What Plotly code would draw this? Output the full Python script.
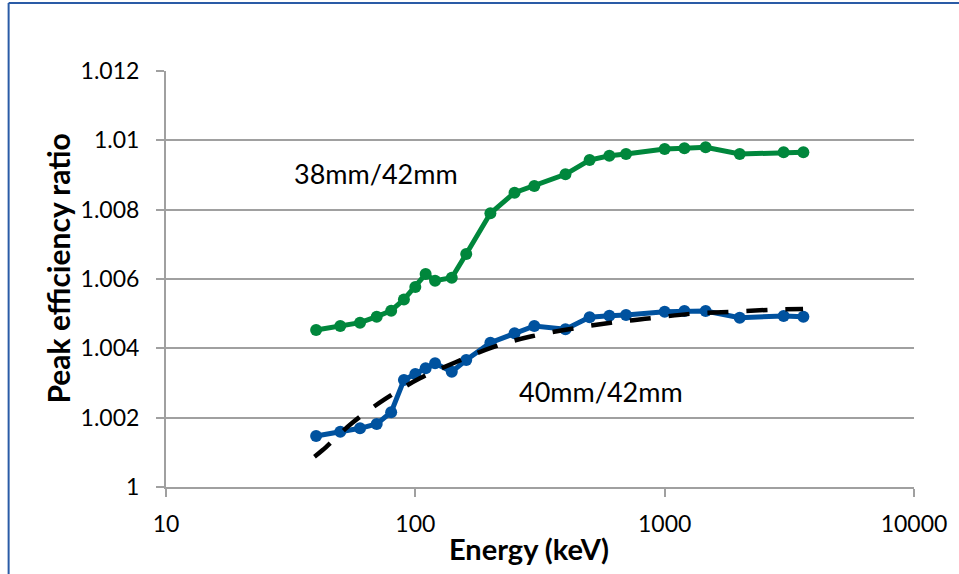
import plotly.graph_objects as go

# Energies (keV)
energy = [40, 50, 60, 70, 80, 90, 100, 110, 120, 140, 160, 200, 250, 300, 400,
          500, 600, 700, 1000, 1200, 1460, 2000, 3000, 3600]

ratio_38_42 = [1.004529, 1.004644, 1.004740, 1.004913, 1.005086, 1.005409, 1.005769,
               1.006144, 1.005951, 1.006038, 1.006721, 1.007895, 1.008490, 1.008683,
               1.009020, 1.009433, 1.009557, 1.009606, 1.009750, 1.009770, 1.009799,
               1.009606, 1.009655, 1.009655]

ratio_40_42 = [1.001471, 1.001595, 1.001693, 1.001817, 1.002155, 1.003087, 1.003260,
               1.003424, 1.003568, 1.003326, 1.003663, 1.004163, 1.004434, 1.004644,
               1.004549, 1.004895, 1.004942, 1.004962, 1.005057, 1.005077, 1.005077,
               1.004884, 1.004933, 1.004913]

# Trend (dashed)
fit_energy = [39.4, 42.5, 55.6, 75.5, 104.3, 145, 203.6, 293, 608, 878, 1267, 1832, 2667, 3590]
fit_ratio = [1.000874, 1.001067, 1.001838, 1.002533, 1.003136, 1.003597, 1.004030,
             1.004347, 1.004740, 1.004866, 1.004996, 1.005054, 1.005112, 1.005135]

y_ticks = [1.0, 1.002, 1.004, 1.006, 1.008, 1.01, 1.012]
y_tick_text = ["1", "1.002", "1.004", "1.006", "1.008", "1.01", "1.012"]
x_ticks = [10, 100, 1000, 10000]
x_tick_text = ["10", "100", "1000", "10000"]

GREEN = "#00873c"
BLUE = "#00529f"
FONT = "Lato"
GRID = "#a0a0a0"

fig = go.Figure()
fig.add_trace(go.Scatter(x=energy, y=ratio_38_42, mode="lines+markers",
                         line=dict(color=GREEN, width=5),
                         marker=dict(color=GREEN, size=12), showlegend=False))
fig.add_trace(go.Scatter(x=energy, y=ratio_40_42, mode="lines+markers",
                         line=dict(color=BLUE, width=5),
                         marker=dict(color=BLUE, size=12), showlegend=False))
fig.add_trace(go.Scatter(x=fit_energy, y=fit_ratio, mode="lines",
                         line=dict(color="black", width=4.5, dash="21px,18px", shape="spline"),
                         showlegend=False))

fig.update_layout(
    width=959, height=574,
    margin=dict(l=166, r=42, t=71, b=87),
    paper_bgcolor="white", plot_bgcolor="white",
    font=dict(family=FONT, size=23, color="black"),
    xaxis=dict(type="log", range=[1, 4], tickvals=x_ticks, ticktext=x_tick_text,
               showgrid=False, showline=True, linecolor=GRID, linewidth=2,
               ticks="outside", ticklen=8, tickwidth=2, tickcolor=GRID,
               ticklabelstandoff=7, zeroline=False),
    yaxis=dict(range=[1.0, 1.012], tickvals=y_ticks, ticktext=y_tick_text,
               showgrid=True, gridcolor=GRID, gridwidth=2,
               showline=True, linecolor=GRID, linewidth=2,
               ticks="outside", ticklen=8, tickwidth=2, tickcolor=GRID,
               ticklabelstandoff=12, zeroline=False),
    annotations=[
        dict(text="38mm/42mm", x=0.1678, y=0.7548, xref="paper", yref="paper",
             xanchor="left", yanchor="middle", showarrow=False, font=dict(size=27)),
        dict(text="40mm/42mm", x=0.4687, y=0.2284, xref="paper", yref="paper",
             xanchor="left", yanchor="middle", showarrow=False, font=dict(size=27)),
        dict(text="<b>Energy (keV)</b>", x=0.4847, y=-0.149, xref="paper", yref="paper",
             xanchor="center", yanchor="middle", showarrow=False, font=dict(size=29)),
        dict(text="<b>Peak efficiency ratio</b>", x=-0.145, y=0.524, xref="paper", yref="paper",
             xanchor="center", yanchor="middle", textangle=-90, showarrow=False,
             font=dict(size=30)),
    ],
    shapes=[
        dict(type="line", xref="paper", yref="paper", x0=-0.2104, x1=1.1, y0=1.1635, y1=1.1635,
             line=dict(color="#2a5ba6", width=2)),
        dict(type="line", xref="paper", yref="paper", x0=-0.2104, x1=-0.2104, y0=1.1635, y1=-0.3,
             line=dict(color="#2a5ba6", width=2)),
    ],
)

fig.write_html("out.html")
